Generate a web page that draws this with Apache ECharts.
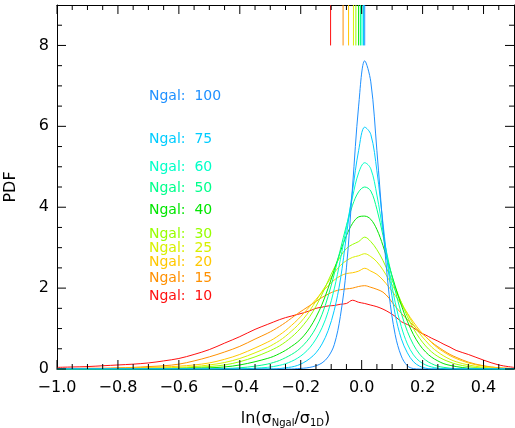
<!DOCTYPE html>
<html>
<head>
<meta charset="utf-8">
<script src="https://cdn.jsdelivr.net/npm/echarts@6/dist/echarts.min.js"></script>
<style>html,body{margin:0;padding:0;background:#fff}#c{width:515px;height:428px}</style>
</head>
<body>
<div id="c"></div>
<script>
// ---- data ----
const ngal = [10, 15, 20, 25, 30, 40, 50, 60, 75, 100];
const xs = [-1.0,-0.95,-0.9,-0.85,-0.8,-0.75,-0.7,-0.65,-0.6,-0.55,-0.5,-0.45,-0.4,-0.35,
  -0.31,-0.29,-0.27,-0.25,-0.23,-0.21,-0.19,-0.17,-0.15,-0.13,-0.11,-0.09,-0.07,-0.05,-0.03,-0.01,
  0.01,0.03,0.05,0.07,0.09,0.11,0.13,0.15,0.17,0.19,0.21,0.23,0.25,0.27,0.29,0.31,
  0.35,0.4,0.45,0.5];
const pdf10 = [0.04,0.05,0.06,0.08,0.1,0.12,0.15,0.2,0.26,0.36,0.48,0.64,0.8,0.98,
  1.1,1.16,1.22,1.27,1.31,1.35,1.39,1.44,1.5,1.53,1.56,1.57,1.6,1.62,1.7,1.65,
  1.62,1.58,1.54,1.48,1.4,1.3,1.17,1.1,1.02,0.91,0.84,0.76,0.69,0.61,0.54,0.46,
  0.36,0.22,0.1,0.04];
const pdf15 = [0.01,0.01,0.02,0.02,0.03,0.04,0.06,0.08,0.12,0.2,0.3,0.42,0.56,0.74,
  0.88,0.96,1.05,1.15,1.26,1.37,1.47,1.57,1.67,1.77,1.85,1.92,1.96,1.98,2.0,2.04,
  2.06,2.02,1.97,1.9,1.75,1.55,1.38,1.22,1.08,0.93,0.8,0.66,0.55,0.45,0.36,0.29,
  0.17,0.08,0.03,0.01];
const pdf20 = [0,0.01,0.01,0.01,0.02,0.03,0.04,0.05,0.07,0.1,0.15,0.24,0.36,0.52,
  0.66,0.74,0.84,0.95,1.08,1.22,1.38,1.55,1.72,1.9,2.06,2.2,2.3,2.36,2.38,2.42,
  2.49,2.42,2.34,2.2,2.02,1.82,1.6,1.38,1.16,0.96,0.8,0.65,0.52,0.42,0.33,0.26,
  0.15,0.07,0.03,0.01];
const pdf25 = [0,0,0,0,0.01,0.01,0.02,0.03,0.04,0.06,0.1,0.16,0.26,0.4,
  0.53,0.61,0.7,0.81,0.94,1.08,1.25,1.45,1.68,1.92,2.15,2.38,2.56,2.68,2.76,2.8,
  2.85,2.78,2.65,2.45,2.2,1.95,1.65,1.37,1.1,0.88,0.7,0.54,0.42,0.32,0.24,0.18,
  0.1,0.04,0.01,0];
const pdf30 = [0,0,0,0,0,0,0.01,0.01,0.02,0.04,0.06,0.1,0.18,0.3,
  0.42,0.49,0.57,0.67,0.79,0.93,1.1,1.3,1.55,1.85,2.18,2.5,2.78,2.98,3.08,3.15,
  3.26,3.15,2.95,2.68,2.35,2.02,1.65,1.3,1.0,0.76,0.57,0.42,0.31,0.23,0.17,0.12,
  0.06,0.02,0.01,0];
const pdf40 = [0,0,0,0,0,0,0,0,0.01,0.02,0.03,0.05,0.1,0.18,
  0.26,0.31,0.38,0.46,0.56,0.67,0.82,1.02,1.28,1.6,2.0,2.45,2.9,3.3,3.6,3.76,
  3.78,3.7,3.45,3.05,2.55,2.05,1.58,1.18,0.85,0.6,0.42,0.29,0.2,0.13,0.09,0.06,
  0.02,0.01,0,0];
const pdf50 = [0,0,0,0,0,0,0,0,0,0,0,0.01,0.03,0.07,
  0.12,0.16,0.21,0.28,0.36,0.46,0.6,0.78,1.02,1.35,1.8,2.35,2.95,3.55,4.05,4.38,
  4.5,4.4,3.95,3.3,2.6,1.95,1.38,0.93,0.6,0.37,0.22,0.13,0.07,0.04,0.02,0.01,
  0,0,0,0];
const pdf60 = [0,0,0,0,0,0,0,0,0,0,0,0,0,0.02,
  0.04,0.06,0.09,0.13,0.19,0.27,0.38,0.53,0.74,1.02,1.42,1.98,2.7,3.5,4.25,4.85,
  5.1,4.95,4.3,3.4,2.45,1.65,1.05,0.62,0.35,0.19,0.1,0.05,0.02,0.01,0,0,
  0,0,0,0];
const pdf75 = [0,0,0,0,0,0,0,0,0,0,0,0,0,0,
  0,0,0.01,0.03,0.05,0.09,0.16,0.26,0.4,0.62,0.95,1.45,2.2,3.3,4.4,5.4,
  5.98,5.8,4.9,3.6,2.3,1.35,0.75,0.4,0.18,0.07,0.02,0,0,0,0,0,
  0,0,0,0];
const pdf100 = [0,0,0,0,0,0,0,0,0,0,0,0,0,0,
  0,0,0,0,0,0.01,0.02,0.04,0.08,0.15,0.3,0.6,1.3,2.5,4.5,6.5,
  7.62,7.1,5.4,3.5,1.85,0.85,0.32,0.08,0.01,0,0,0,0,0,0,0,
  0,0,0,0];
const medians = [-0.102,-0.061,-0.043,-0.027,-0.019,-0.010,-0.004,0.001,0.006,0.010];
const xMajorTicks = [-1.0,-0.8,-0.6,-0.4,-0.2,0.0,0.2,0.4];
const xMinorTicks = [-0.95,-0.9,-0.85,-0.75,-0.7,-0.65,-0.55,-0.5,-0.45,-0.35,-0.3,-0.25,
  -0.15,-0.1,-0.05,0.05,0.1,0.15,0.25,0.3,0.35,0.45];
const yMajorTicks = [0,2,4,6,8];
const yMinorTicks = [0.5,1,1.5,2.5,3,3.5,4.5,5,5.5,6.5,7,7.5,8.5];
const xTicks = {min: -1.0, max: 0.5, major: 0.2};
const yTicks = {min: 0, max: 9, major: 2};

// ---- style / layout ----
const colors = ['#ff1010','#ff9000','#ffc800','#d8f000','#98ff00','#00e600','#00ff8c','#00ffc8','#00ccff','#1e90ff'];
const labelTop = [296.7,278.3,262.5,248,234.7,210,188,167.8,139.5,96.7];
const pdfs = [pdf10,pdf15,pdf20,pdf25,pdf30,pdf40,pdf50,pdf60,pdf75,pdf100];
const FONT = '"DejaVu Sans", sans-serif';
const MAJOR = 9, MINOR = 5;

const chart = echarts.init(document.getElementById('c'), null, {renderer:'canvas'});
const series = [];
pdfs.forEach((arr, i) => {
  series.push({
    type:'line', xAxisIndex:0, yAxisIndex:0, showSymbol:false, smooth:0.35,
    lineStyle:{color:colors[i], width:1}, itemStyle:{color:colors[i]},
    data: xs.map((x, k) => [x, arr[k]]), z: 2 + i, silent:true
  });
});
medians.forEach((m, i) => {
  series.push({
    type:'line', xAxisIndex:0, yAxisIndex:0, showSymbol:false,
    lineStyle:{color:colors[i], width:1}, data:[[m, 8], [m, 9]], z: 2, silent:true
  });
});

// inward tick marks on all four sides, placed through the axes' scales
const tickStyle = {stroke:'#000', lineWidth:1};
function xTickRender(params, api){
  const v = api.value(0);
  const len = api.value(1) ? MAJOR : MINOR;
  const a = api.coord([v, yTicks.min]);
  const b = api.coord([v, yTicks.max]);
  return {type:'group', children:[
    {type:'line', shape:{x1:a[0], y1:a[1], x2:a[0], y2:a[1] - len}, style:tickStyle},
    {type:'line', shape:{x1:b[0], y1:b[1], x2:b[0], y2:b[1] + len}, style:tickStyle}
  ]};
}
function yTickRender(params, api){
  const v = api.value(0);
  const len = api.value(1) ? MAJOR : MINOR;
  const a = api.coord([xTicks.min, v]);
  const b = api.coord([xTicks.max, v]);
  return {type:'group', children:[
    {type:'line', shape:{x1:a[0], y1:a[1], x2:a[0] + len, y2:a[1]}, style:tickStyle},
    {type:'line', shape:{x1:b[0], y1:b[1], x2:b[0] - len, y2:b[1]}, style:tickStyle}
  ]};
}
series.push({
  type:'custom', xAxisIndex:0, yAxisIndex:0, silent:true, clip:false, z:30,
  renderItem: xTickRender, encode:{x:0, y:1},
  data: xMajorTicks.map(v => [v, 1]).concat(xMinorTicks.map(v => [v, 0]))
});
series.push({
  type:'custom', xAxisIndex:0, yAxisIndex:0, silent:true, clip:false, z:30,
  renderItem: yTickRender, encode:{y:0, x:1},
  data: yMajorTicks.map(v => [v, 1]).concat(yMinorTicks.map(v => [v, 0]))
});

function baseAxis(pos, t, labels){
  return {type:'value', position:pos, min:t.min, max:t.max, interval:t.major,
    axisLine:{show:true, onZero:false, lineStyle:{color:'#000', width:1}},
    axisTick:{show:false},
    minorTick:{show:false},
    splitLine:{show:false}, minorSplitLine:{show:false},
    axisLabel:{show:labels, showMaxLabel:false, color:'#000', fontSize:16, fontFamily:FONT}
  };
}
const xBottom = baseAxis('bottom', xTicks, true);
xBottom.axisLabel.margin = 11;
xBottom.axisLabel.formatter = v => (v < 0 ? '\u2212' : '') + Math.abs(v).toFixed(1);
xBottom.name = 'ln(σ{s|Ngal}/σ{s|1D})';
xBottom.nameLocation = 'middle';
xBottom.nameGap = 40;
xBottom.nameTextStyle = {color:'#000', fontSize:16, fontFamily:FONT,
  rich:{s:{fontSize:10, fontFamily:FONT, color:'#000', padding:[9,0,0,0]}}};
const xTop = baseAxis('top', xTicks, false);
const yLeft = baseAxis('left', yTicks, true);
yLeft.axisLabel.margin = 8;
yLeft.name = 'PDF';
yLeft.nameLocation = 'middle';
yLeft.nameGap = 38;
yLeft.nameRotate = 90;
yLeft.nameTextStyle = {color:'#000', fontSize:16, fontFamily:FONT};
const yRight = baseAxis('right', yTicks, false);

const graphics = ngal.map((n, i) => ({
  type:'text', x:149, y:labelTop[i], z:50,
  style:{text:'Ngal:  ' + n, fill:colors[i], font:'14px ' + FONT, verticalAlign:'middle', align:'left'}
}));

chart.setOption({
  animation:false,
  backgroundColor:'#fff',
  grid:{left:57, right:1, top:5, bottom:59, containLabel:false, outerBoundsMode:'none'},
  xAxis:[xBottom, xTop],
  yAxis:[yLeft, yRight],
  series: series,
  graphic: graphics
});
</script>
</body>
</html>
